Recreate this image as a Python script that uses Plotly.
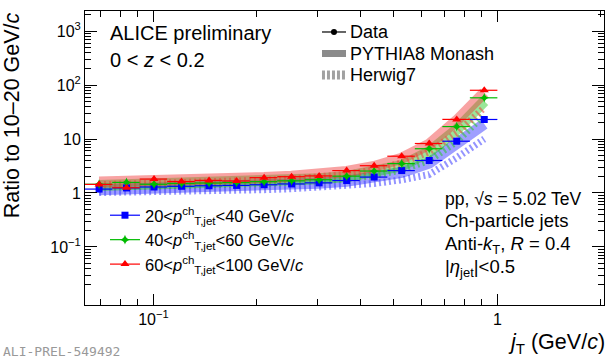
import plotly.graph_objects as go

# ---------------- data ----------------
jt_edges = [0.0631, 0.0759, 0.0912, 0.1096, 0.1318, 0.1585, 0.1905, 0.2291,
            0.2754, 0.3311, 0.3981, 0.4786, 0.5754, 0.6918, 0.8318, 1.0]
jt = [0.0695, 0.0835, 0.1004, 0.1207, 0.1451, 0.1745, 0.2098, 0.2522,
      0.3032, 0.3646, 0.4383, 0.5270, 0.6336, 0.7618, 0.9159]

data_20_40 = [1.18, 1.24, 1.29, 1.33, 1.36, 1.38, 1.42, 1.47, 1.54, 1.70, 1.97, 2.60, 4.0, 9.1, 23.0]
data_40_60 = [1.45, 1.57, 1.45, 1.50, 1.53, 1.56, 1.62, 1.68, 1.76, 2.05, 2.55, 3.5, 6.6, 17.0, 58.0]
data_60_100 = [1.44, 1.25, 1.81, 1.63, 1.71, 1.67, 1.92, 2.00, 2.07, 2.60, 3.20, 4.8, 8.25, 23.1, 80.0]

pythia_20_40 = [1.15, 1.18, 1.22, 1.25, 1.28, 1.32, 1.37, 1.43, 1.52, 1.65, 1.90, 2.4, 3.6, 8.3, 19.0]
pythia_40_60 = [1.38, 1.41, 1.44, 1.48, 1.52, 1.57, 1.63, 1.71, 1.83, 2.02, 2.40, 3.2, 5.8, 15.0, 50.0]
pythia_60_100 = [1.60, 1.63, 1.67, 1.72, 1.78, 1.85, 1.93, 2.05, 2.20, 2.50, 3.10, 4.4, 8.0, 22.0, 72.0]

herwig_20_40 = [1.02, 1.03, 1.05, 1.07, 1.09, 1.12, 1.15, 1.20, 1.27, 1.36, 1.50, 1.75, 2.2, 4.5, 10.0]
herwig_40_60 = [1.28, 1.30, 1.33, 1.36, 1.40, 1.44, 1.50, 1.58, 1.68, 1.84, 2.10, 2.7, 4.0, 9.0, 28.0]
herwig_60_100 = [1.42, 1.45, 1.49, 1.53, 1.58, 1.64, 1.72, 1.82, 1.97, 2.20, 2.65, 3.6, 5.8, 13.0, 38.0]

series_names = ["20<<i>p</i><sup>ch</sup><sub>T,jet</sub><40 GeV/<i>c</i>",
                "40<<i>p</i><sup>ch</sup><sub>T,jet</sub><60 GeV/<i>c</i>",
                "60<<i>p</i><sup>ch</sup><sub>T,jet</sub><100 GeV/<i>c</i>"]
model_names = ["Data", "PYTHIA8 Monash", "Herwig7"]

y_ticks = [0.1, 1, 10, 100, 1000]
y_ticktext = ["10<sup>−1</sup>", "1", "10", "10<sup>2</sup>", "10<sup>3</sup>"]
x_ticks = [0.1, 1]
x_ticktext = ["10<sup>−1</sup>", "1"]

# ---------------- styles ----------------
colors = ["#0000ff", "#00bb00", "#ff0000"]
band_colors = ["rgba(40,40,255,0.45)", "rgba(30,200,30,0.45)", "rgba(240,50,50,0.45)"]
herwig_colors = ["rgba(60,60,255,0.55)", "rgba(40,200,40,0.55)", "rgba(240,60,60,0.55)"]
symbols = ["square", "star-diamond", "triangle-up"]
msizes = [7, 7, 8]

datas = [data_20_40, data_40_60, data_60_100]
pythias = [pythia_20_40, pythia_40_60, pythia_60_100]
herwigs = [herwig_20_40, herwig_40_60, herwig_60_100]

err_plus = [jt_edges[i + 1] - jt[i] for i in range(len(jt))]
err_minus = [jt[i] - jt_edges[i] for i in range(len(jt))]

FONT = "Liberation Sans, Arial, sans-serif"

fig = go.Figure()

for i in range(3):
    fig.add_trace(go.Scatter(x=jt, y=pythias[i], mode="lines",
                             line=dict(color=band_colors[i], width=11),
                             showlegend=False, hoverinfo="skip"))
for i in range(3):
    fig.add_trace(go.Scatter(x=jt, y=herwigs[i], mode="lines",
                             line=dict(color=herwig_colors[i], width=7, dash="2px,3px"),
                             showlegend=False, hoverinfo="skip"))
for i in range(3):
    fig.add_trace(go.Scatter(x=jt, y=datas[i], mode="markers",
                             marker=dict(symbol=symbols[i], size=msizes[i], color=colors[i]),
                             error_x=dict(type="data", symmetric=False, array=err_plus,
                                          arrayminus=err_minus, color=colors[i],
                                          thickness=1.2, width=0),
                             showlegend=False))

# legend for pT bins (native legend)
for i in range(3):
    fig.add_trace(go.Scatter(x=[None], y=[None], mode="lines+markers", name=series_names[i],
                             marker=dict(symbol=symbols[i], size=msizes[i], color=colors[i]),
                             line=dict(color=colors[i], width=1.2)))

axis_common = dict(showline=True, linecolor="black", linewidth=1, mirror="allticks",
                   ticks="inside", tickcolor="black", showgrid=False, zeroline=False,
                   tickfont=dict(family=FONT, size=16, color="black"))

fig.update_xaxes(type="log", range=[-1.199, 0.31], tickmode="array", tickvals=x_ticks,
                 ticktext=x_ticktext, ticklen=11,
                 minor=dict(ticks="inside", ticklen=6, tickcolor="black", tickmode="array",
                            tickvals=[0.07, 0.08, 0.09, 0.2, 0.3, 0.4, 0.5, 0.6, 0.7, 0.8, 0.9, 2]),
                 **axis_common)
fig.update_yaxes(type="log", range=[-2.076, 3.372], tickmode="array", tickvals=y_ticks,
                 ticktext=y_ticktext, ticklen=12,
                 minor=dict(ticks="inside", ticklen=6, tickcolor="black", tickmode="array",
                            tickvals=[0.02, 0.03, 0.04, 0.05, 0.06, 0.07, 0.08, 0.09,
                                      0.2, 0.3, 0.4, 0.5, 0.6, 0.7, 0.8, 0.9,
                                      2, 3, 4, 5, 6, 7, 8, 9,
                                      20, 30, 40, 50, 60, 70, 80, 90,
                                      200, 300, 400, 500, 600, 700, 800, 900, 2000]),
                 **axis_common)

# ---- model legend (manual, compact spacing like the original) ----
L_X0, L_X1, L_TX = 0.4566, 0.5029, 0.5067
L_Y = [0.9286, 0.8554, 0.7823]
fig.add_shape(type="line", xref="paper", yref="paper", x0=L_X0, x1=L_X1, y0=L_Y[0], y1=L_Y[0],
              line=dict(color="black", width=1.2))
fig.add_shape(type="circle", xref="paper", yref="paper", fillcolor="black",
              x0=(L_X0 + L_X1) / 2 - 0.0058, x1=(L_X0 + L_X1) / 2 + 0.0058,
              y0=L_Y[0] - 0.0102, y1=L_Y[0] + 0.0102, line=dict(color="black", width=0))
fig.add_shape(type="line", xref="paper", yref="paper", x0=L_X0, x1=L_X1, y0=L_Y[1], y1=L_Y[1],
              line=dict(color="rgba(110,110,110,0.8)", width=7))
fig.add_shape(type="line", xref="paper", yref="paper", x0=L_X0, x1=L_X1, y0=L_Y[2], y1=L_Y[2],
              line=dict(color="rgba(130,130,130,0.75)", width=9, dash="3px,2px"))
for name, ly in zip(model_names, L_Y):
    fig.add_annotation(xref="paper", yref="paper", x=L_TX, y=ly, text=name, showarrow=False,
                       xanchor="left", yanchor="middle",
                       font=dict(family=FONT, size=18, color="black"))

annotations = [
    ("ALICE preliminary", 0.044, 0.925, 20),
    ("0 < <i>z</i> < 0.2", 0.044, 0.833, 20),
    ("pp, √<i>s</i> = 5.02 TeV", 0.69, 0.362, 17.5),
    ("Ch-particle jets", 0.69, 0.286, 18.5),
    ("Anti-<i>k</i><sub>T</sub>, <i>R</i> = 0.4", 0.69, 0.204, 18.5),
    ("|<i>η</i><sub>jet</sub>|<0.5", 0.69, 0.125, 18.5),
]
for text, ax, ay, fs in annotations:
    fig.add_annotation(xref="paper", yref="paper", x=ax, y=ay, text=text,
                       showarrow=False, xanchor="left", yanchor="middle",
                       font=dict(family=FONT, color="black", size=fs))

fig.add_annotation(xref="paper", yref="paper", x=-0.139, y=0.645, textangle=-90,
                   text="Ratio to 10–20 GeV/<i>c</i>", showarrow=False,
                   xanchor="center", yanchor="middle",
                   font=dict(family=FONT, size=21.5, color="black"))
fig.add_annotation(xref="paper", yref="paper", x=1.006, y=-0.13,
                   text="<i>j</i><sub>T</sub> (GeV/<i>c</i>)", showarrow=False,
                   xanchor="right", yanchor="middle",
                   font=dict(family=FONT, size=21.5, color="black"))
fig.add_annotation(xref="paper", yref="paper", x=-0.162, y=-0.157,
                   text="ALI-PREL-549492", showarrow=False,
                   xanchor="left", yanchor="middle",
                   font=dict(family="DejaVu Sans Mono, monospace", size=13, color="#999999"))

fig.update_layout(
    width=610, height=360,
    margin=dict(l=85, r=6, t=11, b=55, autoexpand=False),
    paper_bgcolor="white", plot_bgcolor="white",
    font=dict(family=FONT, color="black"),
    legend=dict(x=0.0385, y=0.364, xanchor="left", yanchor="top", bgcolor="rgba(0,0,0,0)",
                font=dict(family=FONT, size=16.5, color="black"), tracegroupgap=0,
                itemwidth=30),
)

# remove the browser's default 8px page margin so the 610x360 figure fills the window
fig.write_html("out.html", config={"displayModeBar": False},
               post_script="document.body.style.margin='0';")
